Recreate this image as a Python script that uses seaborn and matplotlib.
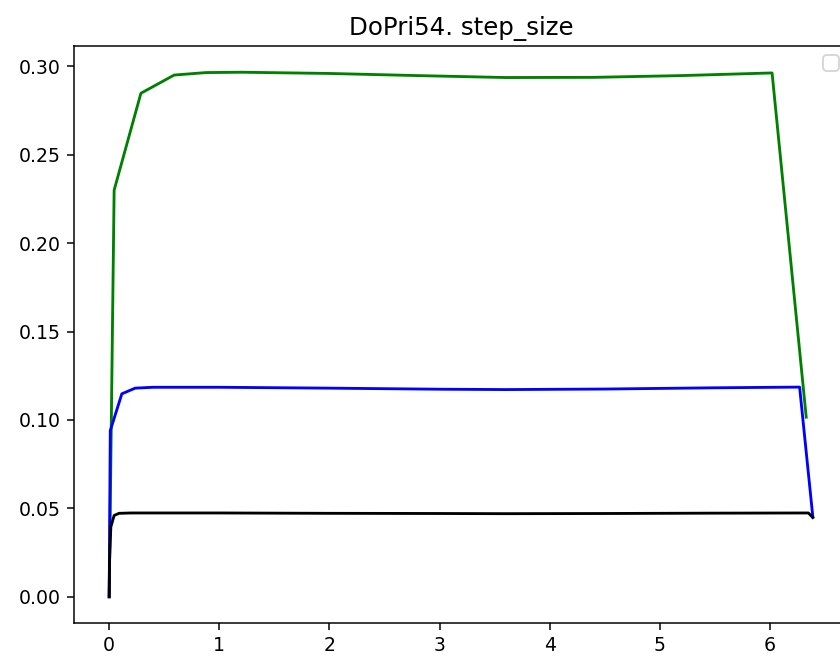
import matplotlib
matplotlib.use("Agg")
import matplotlib.pyplot as plt
import seaborn as sns
import pandas as pd

# === DATA ===
green_t = [0.0, 0.045, 0.288, 0.59, 0.88, 1.2, 2.0, 2.8, 3.6, 4.4, 5.2, 6.02, 6.33]
green_h = [0.0, 0.230, 0.2848, 0.2951, 0.2965, 0.2967, 0.2960, 0.2948, 0.2937, 0.2938, 0.2948, 0.2963, 0.1016]

blue_t = [0.0, 0.01, 0.115, 0.236, 0.4, 1.0, 2.0, 3.0, 3.6, 4.5, 5.5, 6.27, 6.39]
blue_h = [0.0, 0.094, 0.1148, 0.1180, 0.1185, 0.1185, 0.1180, 0.1174, 0.1172, 0.1175, 0.1182, 0.1186, 0.0452]

black_t = [0.0, 0.003, 0.015, 0.045, 0.09, 0.2, 1.0, 2.0, 3.0, 3.6, 4.5, 5.5, 6.35, 6.39]
black_h = [0.0, 0.020, 0.0395, 0.0460, 0.0472, 0.0474, 0.0474, 0.0472, 0.0471, 0.0470, 0.0471, 0.0473, 0.0474, 0.0448]

series = [(green_t, green_h, "green"), (blue_t, blue_h, "blue"), (black_t, black_h, "black")]

# === PLOT ===
DPI = 136
fig = plt.figure(figsize=(840 / DPI, 659 / DPI), dpi=DPI)
ax = fig.add_axes([74 / 840, 36 / 659, 774 / 840, 577 / 659])

for t, h, c in series:
    df = pd.DataFrame({"t": t, "h": h})
    sns.lineplot(data=df, x="t", y="h", color=c, estimator=None, sort=False, ax=ax)

ax.set_xlabel("")
ax.set_ylabel("")
ax.set_title("DoPri54. step_size", fontsize=13)
ax.legend(loc="upper right")

fig.savefig("out.png", dpi=DPI)
